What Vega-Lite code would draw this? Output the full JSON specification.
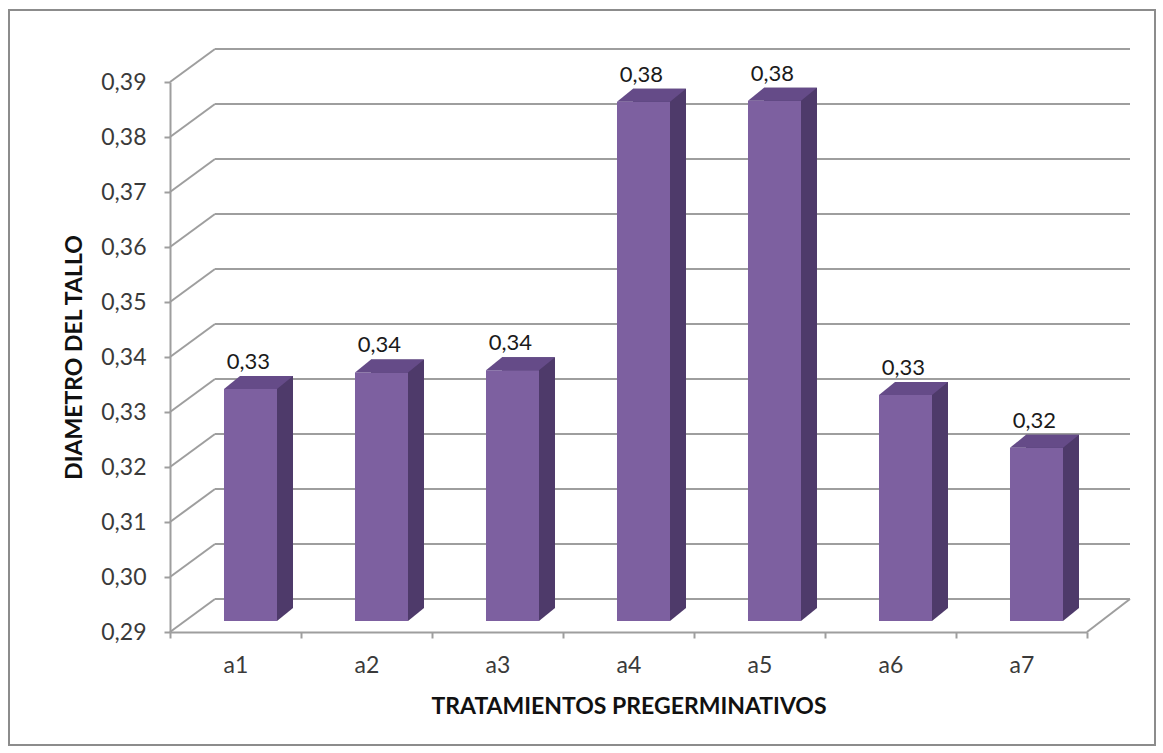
{
  "$schema": "https://vega.github.io/schema/vega-lite/v6.json",
  "width": 917,
  "height": 550,
  "autosize": {"type": "none"},
  "padding": {"left": 170, "top": 82, "right": 76, "bottom": 121},
  "background": "white",
  "config": {
    "view": {"stroke": null},
    "font": "Lato",
    "locale": {
      "number": {"decimal": ",", "thousands": ".", "grouping": [3], "currency": ["", " €"]}
    }
  },
  "datasets": {
    "bars": [
      {"tratamiento": "a1", "diametro": 0.3322},
      {"tratamiento": "a2", "diametro": 0.3352},
      {"tratamiento": "a3", "diametro": 0.3356},
      {"tratamiento": "a4", "diametro": 0.3844},
      {"tratamiento": "a5", "diametro": 0.3846},
      {"tratamiento": "a6", "diametro": 0.3311},
      {"tratamiento": "a7", "diametro": 0.3215}
    ],
    "niveles": [
      {"v": 0.29}, {"v": 0.30}, {"v": 0.31}, {"v": 0.32}, {"v": 0.33}, {"v": 0.34},
      {"v": 0.35}, {"v": 0.36}, {"v": 0.37}, {"v": 0.38}, {"v": 0.39}
    ]
  },
  "layer": [
    {
      "layer": [
        {
          "data": {"values": [{}]},
          "mark": {"type": "rect", "fill": null, "stroke": "#8c8c8c", "strokeWidth": 2,
                   "xOffset": -161, "x2Offset": 68, "yOffset": -72, "y2Offset": 113},
          "encoding": {
            "x": {"datum": 0, "type": "quantitative", "scale": {"domain": [0, 1]}, "axis": null},
            "x2": {"datum": 1},
            "y": {"datum": 0.39, "type": "quantitative"},
            "y2": {"datum": 0.29}
          }
        },
        {
          "data": {"name": "niveles"},
          "mark": {"type": "rule", "color": "#9e9e9e", "strokeWidth": 2,
                   "xOffset": 45, "x2Offset": 43, "yOffset": -33, "y2Offset": -33},
          "encoding": {
            "x": {"datum": 0, "type": "quantitative", "scale": {"domain": [0, 1]}, "axis": null},
            "x2": {"datum": 1},
            "y": {"field": "v", "type": "quantitative"},
            "y2": {"field": "v"}
          }
        },
        {
          "data": {"name": "niveles"},
          "mark": {"type": "rule", "color": "#9e9e9e", "strokeWidth": 2,
                   "x2Offset": 45, "y2Offset": -33},
          "encoding": {
            "x": {"datum": 0, "type": "quantitative", "scale": {"domain": [0, 1]}, "axis": null},
            "x2": {"datum": 0},
            "y": {"field": "v", "type": "quantitative"},
            "y2": {"field": "v"}
          }
        },
        {
          "data": {"values": [{}]},
          "mark": {"type": "rule", "color": "#9e9e9e", "strokeWidth": 2,
                   "x2Offset": 43, "y2Offset": -33},
          "encoding": {
            "x": {"datum": 1, "type": "quantitative", "scale": {"domain": [0, 1]}, "axis": null},
            "x2": {"datum": 1},
            "y": {"datum": 0.29, "type": "quantitative"},
            "y2": {"datum": 0.29}
          }
        }
      ]
    },
    {
      "data": {"name": "bars"},
      "encoding": {
        "x": {
          "field": "tratamiento",
          "type": "nominal",
          "sort": null,
          "scale": {"paddingInner": 0, "paddingOuter": 0},
          "axis": {
            "title": "TRATAMIENTOS PREGERMINATIVOS",
            "labelAngle": 0,
            "labelFontSize": 23,
            "labelColor": "#3a3a3a",
            "labelPadding": 16,
            "tickBand": "extent",
            "tickSize": 6,
            "tickColor": "#9e9e9e",
            "tickWidth": 2,
            "domainColor": "#9e9e9e",
            "domainWidth": 2,
            "titleFontSize": 23,
            "titleFontWeight": "bold",
            "titleColor": "#111111",
            "titlePadding": 18
          }
        },
        "y": {
          "field": "diametro",
          "type": "quantitative",
          "scale": {"domain": [0.29, 0.39], "zero": false, "nice": false},
          "axis": {
            "title": "DIAMETRO DEL TALLO",
            "values": [0.29, 0.30, 0.31, 0.32, 0.33, 0.34, 0.35, 0.36, 0.37, 0.38, 0.39],
            "format": ".2f",
            "grid": false,
            "labelFontSize": 23,
            "labelColor": "#3a3a3a",
            "labelPadding": 18,
            "tickSize": 6,
            "tickColor": "#9e9e9e",
            "tickWidth": 2,
            "domainColor": "#9e9e9e",
            "domainWidth": 2,
            "titleFontSize": 23,
            "titleFontWeight": "bold",
            "titleColor": "#111111",
            "titlePadding": 14
          }
        }
      },
      "layer": [
        {
          "mark": {"type": "bar", "color": "#4e3a6a", "width": {"band": 0.4046},
                   "xOffset": 31, "yOffset": -24, "y2Offset": -24},
          "encoding": {"y2": {"datum": 0.29}}
        },
        {
          "mark": {"type": "point", "filled": true, "opacity": 1, "color": "#4e3a6a",
                   "strokeWidth": 0, "size": 256,
                   "shape": "M -1 -0.8125 L 1 -0.8125 L -1 0.8125 Z",
                   "xOffset": 49.5, "yOffset": -17.5},
          "encoding": {"y": {"datum": 0.29, "type": "quantitative"}}
        },
        {
          "mark": {"type": "bar", "color": "#7d60a0", "width": {"band": 0.4046},
                   "xOffset": 15, "yOffset": -11, "y2Offset": -11},
          "encoding": {"y2": {"datum": 0.29}}
        },
        {
          "mark": {"type": "point", "filled": true, "opacity": 1, "color": "#654b88",
                   "strokeWidth": 0, "size": 4761,
                   "shape": "M -1 0.1884 L 0.5362 0.1884 L 1 -0.1884 L -0.5362 -0.1884 Z",
                   "xOffset": 23, "yOffset": -17.5}
        },
        {
          "mark": {"type": "text", "fontSize": 22, "color": "#1a1a1a",
                   "baseline": "alphabetic", "xOffset": 13, "yOffset": -31},
          "encoding": {"text": {"field": "diametro", "type": "quantitative", "format": ".2f"}}
        }
      ]
    }
  ],
  "resolve": {"scale": {"x": "independent"}}
}
